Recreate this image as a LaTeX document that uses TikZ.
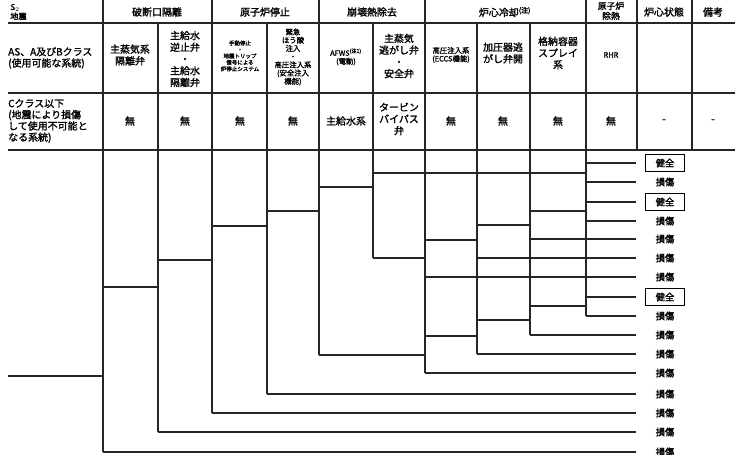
\documentclass[tikz,border=0pt]{standalone}
\usepackage{fontspec}
\setmainfont{Noto Sans CJK JP}[AutoFakeBold=1.6]
\begin{document}
\begin{tikzpicture}[
  x=0.03cm,y=-0.03cm,
  every node/.style={font=\bfseries},
  rule/.style={line width=1.2pt, black!85},
  branch/.style={line width=1pt, black!85},
  toend/.style={branch, shorten >=0.28cm},
  grouphead/.style={font=\fontsize{8.5}{9.5}\selectfont\bfseries, align=center, inner sep=1pt},
  cell/.style={font=\fontsize{8.5}{10}\selectfont\bfseries, align=center, inner sep=1pt},
  cellsmall/.style={font=\fontsize{6.3}{7}\selectfont\bfseries, align=center, inner sep=1pt},
  celltiny/.style={font=\fontsize{4.7}{5.5}\selectfont\bfseries, align=center, inner sep=1pt},
  rowhead/.style={font=\fontsize{8.5}{9.6}\selectfont\bfseries, align=left, anchor=west, inner sep=0pt},
  okst/.style={draw, line width=0.8pt, font=\fontsize{8}{9}\selectfont\bfseries, minimum width=1.15cm, minimum height=0.5cm, inner sep=1pt},
  dmgst/.style={okst, draw=none}
]
\useasboundingbox (0,0) rectangle (735,455);

\draw[rule] (8,23) -- (735,23);
\draw[rule] (8,93) -- (735,93);
\draw[rule] (8,150) -- (735,150);
\draw[rule] (103,0) -- (103,150);
\draw[rule] (158,23) -- (158,150);
\draw[rule] (212,0) -- (212,150);
\draw[rule] (267,23) -- (267,150);
\draw[rule] (319,0) -- (319,150);
\draw[rule] (373,23) -- (373,150);
\draw[rule] (425,0) -- (425,150);
\draw[rule] (477,23) -- (477,150);
\draw[rule] (530,23) -- (530,150);
\draw[rule] (586,0) -- (586,150);
\draw[rule] (637,0) -- (637,150);
\draw[rule] (692,0) -- (692,150);

\node[rowhead, font=\fontsize{7}{8}\selectfont\bfseries] (ev) at (10,12) {S$_2$\\地震};
\node[grouphead] (g1)  at (157,12) {破断口隔離};
\node[grouphead] (g2)  at (265,12) {原子炉停止};
\node[grouphead] (g3)  at (372,12) {崩壊熱除去};
\node[grouphead] (g4)  at (505,12) {炉心冷却\textsuperscript{(注)}};
\node[grouphead, font=\fontsize{7.5}{8.5}\selectfont\bfseries] (g5) at (611,11) {原子炉\\除熱};
\node[grouphead] (g6)  at (664,12) {炉心状態};
\node[grouphead] (g7)  at (713,12) {備考};

\node[rowhead]   (ash) at (8,58) {AS、A及びBクラス\\(使用可能な系統)};
\node[cell]      (a1)  at (130,55) {主蒸気系\\隔離弁};
\node[cell]      (a2)  at (185,59) {主給水\\逆止弁\\・\\主給水\\隔離弁};
\node[celltiny]  (a3)  at (240,56) {手動停止\\・\\地震トリップ\\信号による\\炉停止システム};
\node[cellsmall] (a4)  at (293,57) {緊急\\ほう酸\\注入\\・\\高圧注入系\\(安全注入\\機能)};
\node[cellsmall] (a5)  at (346,57) {AFWS\textsuperscript{(注1)}\\(電動)};
\node[cell]      (a6)  at (399,56) {主蒸気\\逃がし弁\\・\\安全弁};
\node[cellsmall] (a7)  at (451,55) {高圧注入系\\(ECCS機能)};
\node[cell]      (a8)  at (503,53) {加圧器逃\\がし弁開};
\node[cell]      (a9)  at (558,53) {格納容器\\スプレイ\\系};
\node[cellsmall] (a10) at (611,55) {RHR};

\node[rowhead]   (chd) at (8,121) {Cクラス以下\\(地震により損傷\\して使用不可能と\\なる系統)};
\node[cell]      (b1)  at (130,121) {無};
\node[cell]      (b2)  at (185,121) {無};
\node[cell]      (b3)  at (240,121) {無};
\node[cell]      (b4)  at (293,121) {無};
\node[cell]      (b5)  at (346,121) {主給水系};
\node[cell]      (b6)  at (399,119) {タービン\\バイパス\\弁};
\node[cell]      (b7)  at (451,121) {無};
\node[cell]      (b8)  at (503,121) {無};
\node[cell]      (b9)  at (558,121) {無};
\node[cell]      (b10) at (611,121) {無};
\node[cell]      (b11) at (664,121) {-};
\node[cell]      (b12) at (713,121) {-};

\node[okst]  (e1)  at (665,163) {健全};
\node[dmgst] (e2)  at (665,182) {損傷};
\node[okst]  (e3)  at (665,202) {健全};
\node[dmgst] (e4)  at (665,221) {損傷};
\node[dmgst] (e5)  at (665,239) {損傷};
\node[dmgst] (e6)  at (665,258) {損傷};
\node[dmgst] (e7)  at (665,277) {損傷};
\node[okst]  (e8)  at (665,297) {健全};
\node[dmgst] (e9)  at (665,316) {損傷};
\node[dmgst] (e10) at (665,335) {損傷};
\node[dmgst] (e11) at (665,354) {損傷};
\node[dmgst] (e12) at (665,373) {損傷};
\node[dmgst] (e13) at (665,394) {損傷};
\node[dmgst] (e14) at (665,413) {損傷};
\node[dmgst] (e15) at (665,432) {損傷};
\node[dmgst] (e16) at (665,452) {損傷};

\draw[branch] (8,376) -- (103,376);
\draw[branch] (103,150) -- (103,452);
\draw[branch] (158,150) -- (158,432);
\draw[branch] (212,150) -- (212,413);
\draw[branch] (267,150) -- (267,394);
\draw[branch] (319,150) -- (319,355);
\draw[branch] (373,150) -- (373,258);
\draw[branch] (425,150) -- (425,373);
\draw[branch] (477,150) -- (477,354);
\draw[branch] (530,150) -- (530,335);
\draw[branch] (586,150) -- (586,316);

\draw[branch] (103,287) -- (158,287);
\draw[branch] (158,260) -- (212,260);
\draw[branch] (212,226) -- (267,226);
\draw[branch] (267,211) -- (319,211);
\draw[branch] (319,187) -- (373,187);
\draw[branch] (373,173) -- (586,173);
\draw[branch] (373,258) -- (425,258);
\draw[branch] (319,355) -- (425,355);
\draw[branch] (425,240) -- (477,240);
\draw[branch] (425,336) -- (477,336);
\draw[branch] (477,225) -- (530,225);
\draw[branch] (477,320) -- (530,320);
\draw[branch] (530,211) -- (586,211);
\draw[branch] (530,306) -- (586,306);

\draw[toend] (586,163) -- (e1.west);
\draw[toend] (586,182) -- (e2.west);
\draw[toend] (586,202) -- (e3.west);
\draw[toend] (586,221) -- (e4.west);
\draw[toend] (530,239) -- (e5.west);
\draw[toend] (477,258) -- (e6.west);
\draw[toend] (425,277) -- (e7.west);
\draw[toend] (586,297) -- (e8.west);
\draw[toend] (586,316) -- (e9.west);
\draw[toend] (530,335) -- (e10.west);
\draw[toend] (477,354) -- (e11.west);
\draw[toend] (425,373) -- (e12.west);
\draw[toend] (267,394) -- (e13.west);
\draw[toend] (212,413) -- (e14.west);
\draw[toend] (158,432) -- (e15.west);
\draw[toend] (103,452) -- (e16.west);
\end{tikzpicture}
\end{document}
